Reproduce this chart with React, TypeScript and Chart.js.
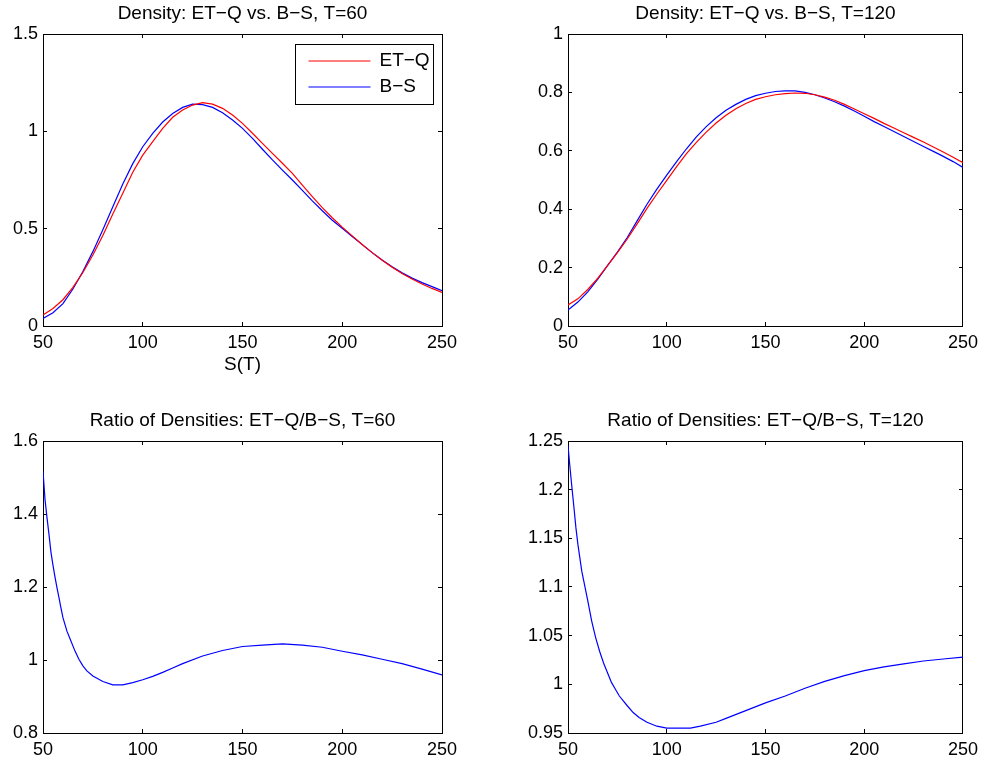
import React, { useEffect, useRef } from "react";
import { Chart, registerables } from "chart.js";

Chart.register(...registerables);

const FONT = "'Liberation Sans', Arial, Helvetica, sans-serif";
Chart.defaults.font.family = FONT;
Chart.defaults.color = "#000";

// ---------- data ----------
const S_GRID = [
  50, 55, 60, 65, 70, 75, 80, 85, 90, 95, 100, 105, 110, 115, 120, 125, 130, 135, 140, 145,
  150, 155, 160, 165, 170, 175, 180, 185, 190, 195, 200, 205, 210, 215, 220, 225, 230, 235, 240, 245, 250,
];

const ETQ_T60 = [
  0.057, 0.09, 0.135, 0.198, 0.275, 0.365, 0.465, 0.575, 0.682, 0.79, 0.878, 0.947, 1.015, 1.072, 1.11, 1.135,
  1.147, 1.14, 1.118, 1.084, 1.041, 0.99, 0.938, 0.887, 0.836, 0.784, 0.724, 0.665, 0.608, 0.556, 0.508, 0.463,
  0.419, 0.377, 0.338, 0.302, 0.27, 0.241, 0.216, 0.193, 0.173,
];
const BS_T60 = [
  0.039, 0.068, 0.115, 0.19, 0.28, 0.382, 0.495, 0.613, 0.73, 0.834, 0.921, 0.99, 1.048, 1.092, 1.123, 1.14,
  1.137, 1.123, 1.096, 1.058, 1.015, 0.964, 0.908, 0.853, 0.801, 0.75, 0.697, 0.643, 0.592, 0.543, 0.502, 0.46,
  0.418, 0.377, 0.339, 0.304, 0.273, 0.246, 0.223, 0.202, 0.182,
];

const ETQ_T120 = [
  0.072, 0.093, 0.125, 0.163, 0.207, 0.251, 0.298, 0.35, 0.403, 0.452, 0.499, 0.546, 0.59, 0.629, 0.664, 0.695,
  0.722, 0.744, 0.762, 0.776, 0.785, 0.792, 0.796, 0.798, 0.797, 0.792, 0.784, 0.773, 0.759, 0.743, 0.727, 0.711,
  0.694, 0.678, 0.662, 0.646, 0.63, 0.613, 0.596, 0.578, 0.559,
];
const BS_T120 = [
  0.055, 0.082, 0.117, 0.16, 0.207, 0.253, 0.303, 0.36, 0.417, 0.469, 0.517, 0.563, 0.607, 0.648, 0.683, 0.713,
  0.739, 0.759, 0.776, 0.789, 0.797, 0.803, 0.805, 0.805, 0.8, 0.792, 0.781, 0.768, 0.753, 0.736, 0.718, 0.7,
  0.683, 0.666, 0.649, 0.632, 0.615, 0.598, 0.581, 0.563, 0.543,
];

const RATIO_T60_S = [
  50, 51, 52, 53, 54, 55, 56, 57, 58, 59, 60, 62, 64, 66, 68, 70, 72, 75, 80, 85, 90, 95, 100, 105, 110,
  115, 120, 130, 140, 150, 160, 170, 180, 190, 200, 210, 220, 230, 240, 250,
];
const RATIO_T60 = [
  1.518, 1.44, 1.39, 1.344, 1.295, 1.26, 1.228, 1.198, 1.171, 1.143, 1.116, 1.079, 1.052, 1.025, 1.002, 0.984,
  0.97, 0.956, 0.941, 0.932, 0.932, 0.938, 0.946, 0.955, 0.966, 0.978, 0.99, 1.011, 1.026, 1.037, 1.041, 1.044,
  1.041, 1.035, 1.024, 1.014, 1.002, 0.99, 0.975, 0.959,
];

const RATIO_T120_S = [
  50, 51, 52, 53, 54, 55, 56, 57, 58, 59, 60, 62, 64, 66, 68, 70, 72, 74, 76, 78, 80, 83, 86, 90, 95, 100,
  105, 112, 117, 125, 130, 140, 150, 160, 170, 180, 190, 200, 210, 220, 230, 240, 250,
];
const RATIO_T120 = [
  1.245, 1.223, 1.202, 1.182, 1.161, 1.144, 1.13, 1.116, 1.106, 1.096, 1.086, 1.065, 1.048, 1.034, 1.022, 1.012,
  1.002, 0.995, 0.988, 0.983, 0.978, 0.971, 0.966, 0.961, 0.957, 0.955, 0.955, 0.955, 0.957, 0.961, 0.965, 0.973,
  0.981, 0.988, 0.996, 1.003, 1.009, 1.014, 1.018, 1.021, 1.024, 1.026, 1.028,
];

const X_TICKS = [50, 100, 150, 200, 250];
const Y_TICKS_T60 = [0, 0.5, 1, 1.5];
const Y_TICKS_T120 = [0, 0.2, 0.4, 0.6, 0.8, 1];
const Y_TICKS_R60 = [0.8, 1, 1.2, 1.4, 1.6];
const Y_TICKS_R120 = [0.95, 1, 1.05, 1.1, 1.15, 1.2, 1.25];

const LABEL_ETQ = "ET\u2212Q";
const LABEL_BS = "B\u2212S";
const TITLE_T60 = "Density: ET\u2212Q vs. B\u2212S, T=60";
const TITLE_T120 = "Density: ET\u2212Q vs. B\u2212S, T=120";
const TITLE_R60 = "Ratio of Densities: ET\u2212Q/B\u2212S, T=60";
const TITLE_R120 = "Ratio of Densities: ET\u2212Q/B\u2212S, T=120";
const X_LABEL = "S(T)";

const RED = "#ff0000";
const BLUE = "#0000ff";

// ---------- helpers ----------
const tickSetter = (values: number[]) => (scale: any) => {
  scale.ticks = values.map((value) => ({ value }));
};

const boxLegend = {
  id: "boxLegend",
  afterDatasetsDraw(chart: any, _args: any, opts: any) {
    if (!opts || !opts.display) return;
    const { ctx, chartArea } = chart;
    const items = chart.data.datasets.map((d: any) => ({ label: d.label, color: d.borderColor }));
    ctx.save();
    ctx.font = `19px ${FONT}`;
    const textW = Math.max(...items.map((i: any) => ctx.measureText(i.label).width));
    const w = Math.round(13 + 62 + 9 + textW + 4);
    const h = 60;
    const right = Math.round(chartArea.right - 9) + 0.5;
    const left = right - w;
    const top = Math.round(chartArea.top + 10) + 0.5;
    ctx.fillStyle = "#fff";
    ctx.fillRect(left, top, w, h);
    ctx.strokeStyle = "#000";
    ctx.lineWidth = 1;
    ctx.strokeRect(left, top, w, h);
    items.forEach((it: any, i: number) => {
      const y = top + 16.5 + i * 26;
      ctx.strokeStyle = it.color;
      ctx.lineWidth = 1.2;
      ctx.beginPath();
      ctx.moveTo(left + 13, y);
      ctx.lineTo(left + 75, y);
      ctx.stroke();
      ctx.fillStyle = "#000";
      ctx.textAlign = "left";
      ctx.textBaseline = "middle";
      ctx.fillText(it.label, left + 84, y);
    });
    ctx.restore();
  },
};

type Series = { label: string; xs: number[]; ys: number[]; color: string };
type PanelSpec = {
  left: number;
  top: number;
  width: number;
  height: number;
  yAxisWidth: number;
  xAxisHeight: number;
  padRight: number;
  title: string;
  xTitle?: string;
  legend?: boolean;
  yMin: number;
  yMax: number;
  yTicks: number[];
  series: Series[];
};

function Panel({ spec }: { spec: PanelSpec }) {
  const ref = useRef<HTMLCanvasElement>(null);
  useEffect(() => {
    const canvas = ref.current;
    if (!canvas) return;
    const grid = {
      display: true,
      drawOnChartArea: false,
      drawTicks: true,
      tickLength: -4,
      color: "#000",
      lineWidth: 1,
    };
    const border = { display: true, color: "#000", width: 1 };
    const chart = new Chart(canvas, {
      type: "line",
      data: {
        datasets: spec.series.map((s) => ({
          label: s.label,
          data: s.xs.map((x, i) => ({ x, y: s.ys[i] })),
          borderColor: s.color,
          backgroundColor: s.color,
          borderWidth: 1.2,
          pointRadius: 0,
          pointHoverRadius: 0,
          fill: false,
          tension: 0,
          xAxisID: "x",
          yAxisID: "y",
        })),
      },
      options: {
        responsive: false,
        animation: false,
        devicePixelRatio: 1,
        events: [],
        layout: { padding: { left: 0, top: 0, bottom: 0, right: spec.padRight } },
        plugins: {
          legend: { display: false },
          tooltip: { enabled: false },
          title: {
            display: true,
            text: spec.title,
            fullSize: false,
            color: "#000",
            font: { size: 19, weight: "normal" as any, family: FONT },
            padding: { top: 2.6, bottom: 8.6 },
          },
          boxLegend: { display: !!spec.legend },
        } as any,
        scales: {
          x: {
            type: "linear",
            position: "bottom",
            min: 50,
            max: 250,
            afterBuildTicks: tickSetter(X_TICKS),
            afterFit: (s: any) => {
              s.height = spec.xAxisHeight;
            },
            grid,
            border,
            ticks: {
              padding: 10,
              color: "#000",
              font: { size: 18, family: FONT },
              maxRotation: 0,
              autoSkip: false,
              callback: (v: any) => String(v),
            },
            title: spec.xTitle
              ? {
                  display: true,
                  text: spec.xTitle,
                  color: "#000",
                  font: { size: 19, family: FONT },
                  padding: { top: 0, bottom: 4.6 },
                }
              : { display: false },
          },
          x2: {
            type: "linear",
            axis: "x",
            position: "top",
            min: 50,
            max: 250,
            afterBuildTicks: tickSetter(X_TICKS),
            afterFit: (s: any) => {
              s.height = 0;
            },
            grid,
            border,
            ticks: { display: false },
          },
          y: {
            type: "linear",
            position: "left",
            min: spec.yMin,
            max: spec.yMax,
            afterBuildTicks: tickSetter(spec.yTicks),
            afterFit: (s: any) => {
              s.width = spec.yAxisWidth;
            },
            grid,
            border,
            ticks: {
              padding: 9,
              color: "#000",
              font: { size: 18, family: FONT },
              autoSkip: false,
              callback: (v: any) => String(v),
            },
          },
          y2: {
            type: "linear",
            axis: "y",
            position: "right",
            min: spec.yMin,
            max: spec.yMax,
            afterBuildTicks: tickSetter(spec.yTicks),
            afterFit: (s: any) => {
              s.width = 0;
            },
            grid,
            border,
            ticks: { display: false },
          },
        } as any,
      },
      plugins: [boxLegend as any],
    });
    return () => chart.destroy();
  }, [spec]);
  return (
    <div
      style={{
        position: "absolute",
        left: spec.left,
        top: spec.top,
        width: spec.width,
        height: spec.height,
      }}
    >
      <canvas
        ref={ref}
        width={spec.width}
        height={spec.height}
        style={{ display: "block", width: spec.width, height: spec.height }}
      />
    </div>
  );
}

const PANELS: PanelSpec[] = [
  {
    left: 0,
    top: 0,
    width: 494,
    height: 381,
    yAxisWidth: 43,
    xAxisHeight: 55,
    padRight: 52,
    title: TITLE_T60,
    xTitle: X_LABEL,
    legend: true,
    yMin: 0,
    yMax: 1.5,
    yTicks: Y_TICKS_T60,
    series: [
      { label: LABEL_ETQ, xs: S_GRID, ys: ETQ_T60, color: RED },
      { label: LABEL_BS, xs: S_GRID, ys: BS_T60, color: BLUE },
    ],
  },
  {
    left: 494,
    top: 0,
    width: 494,
    height: 381,
    yAxisWidth: 74,
    xAxisHeight: 55,
    padRight: 20,
    title: TITLE_T120,
    yMin: 0,
    yMax: 1,
    yTicks: Y_TICKS_T120,
    series: [
      { label: LABEL_ETQ, xs: S_GRID, ys: ETQ_T120, color: RED },
      { label: LABEL_BS, xs: S_GRID, ys: BS_T120, color: BLUE },
    ],
  },
  {
    left: 0,
    top: 407,
    width: 494,
    height: 356,
    yAxisWidth: 43,
    xAxisHeight: 30,
    padRight: 52,
    title: TITLE_R60,
    yMin: 0.8,
    yMax: 1.6,
    yTicks: Y_TICKS_R60,
    series: [{ label: "ratio", xs: RATIO_T60_S, ys: RATIO_T60, color: BLUE }],
  },
  {
    left: 494,
    top: 407,
    width: 494,
    height: 356,
    yAxisWidth: 74,
    xAxisHeight: 30,
    padRight: 20,
    title: TITLE_R120,
    yMin: 0.95,
    yMax: 1.25,
    yTicks: Y_TICKS_R120,
    series: [{ label: "ratio", xs: RATIO_T120_S, ys: RATIO_T120, color: BLUE }],
  },
];

export default function App() {
  return (
    <div
      style={{
        position: "absolute",
        left: 0,
        top: 0,
        width: 988,
        height: 763,
        background: "#fff",
        overflow: "hidden",
      }}
    >
      {PANELS.map((p, i) => (
        <Panel key={i} spec={p} />
      ))}
    </div>
  );
}
